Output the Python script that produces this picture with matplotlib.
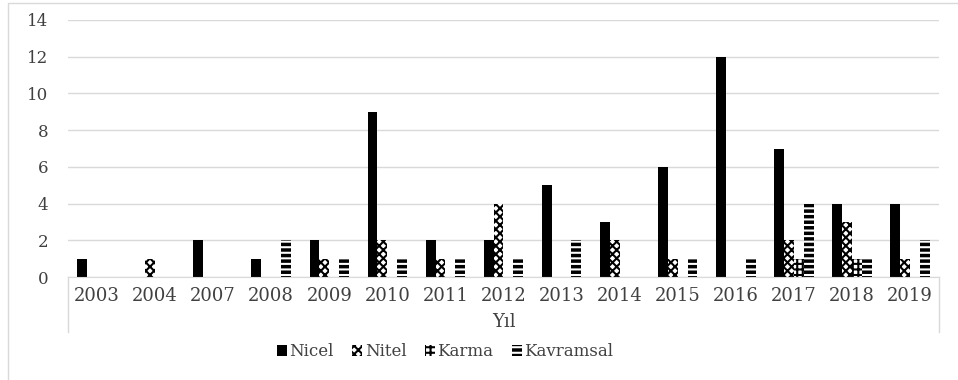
import matplotlib.pyplot as plt
import numpy as np
from matplotlib.lines import Line2D
from matplotlib.patches import Rectangle

years = ["2003", "2004", "2007", "2008", "2009", "2010", "2011", "2012",
         "2013", "2014", "2015", "2016", "2017", "2018", "2019"]
nicel = [1, 0, 2, 1, 2, 9, 2, 2, 5, 3, 6, 12, 7, 4, 4]
nitel = [0, 1, 0, 0, 1, 2, 1, 4, 0, 2, 1, 0, 2, 3, 1]
karma = [0, 0, 0, 0, 0, 0, 0, 0, 0, 0, 0, 0, 1, 1, 0]
kavramsal = [0, 0, 0, 2, 1, 1, 1, 1, 2, 0, 1, 1, 4, 1, 2]

plt.rcParams["font.family"] = ["DejaVu Serif"]
plt.rcParams["hatch.linewidth"] = 1.5

W, H = 958, 380
fig = plt.figure(figsize=(W / 100, H / 100), dpi=100)
ax = fig.add_axes([68 / W, 1 - 277 / H, (939 - 68) / W, (277 - 20) / H])

x = np.arange(len(years))
bw = 0.17
styles = [
    ("Nicel", nicel, dict(facecolor="black", edgecolor="black", hatch=None)),
    ("Nitel", nitel, dict(facecolor="white", edgecolor="black", hatch="xxxx")),
    ("Karma", karma, dict(facecolor="white", edgecolor="black", hatch="+++")),
    ("Kavramsal", kavramsal, dict(facecolor="black", edgecolor="white", hatch="---")),
]
handles = []
for i, (name, vals, st) in enumerate(styles):
    bars = ax.bar(x + (i - 1.5) * bw, vals, bw, linewidth=0, label=name, **st)
    handles.append(bars)

ax.set_xlim(-0.5, len(years) - 0.5)
ax.set_ylim(0, 14)
ax.set_yticks(range(0, 15, 2))
ax.yaxis.grid(True, color="#d9d9d9", linewidth=1)
ax.set_axisbelow(True)
for s in ["top", "right", "left"]:
    ax.spines[s].set_visible(False)
ax.spines["bottom"].set_color("#d9d9d9")
ax.tick_params(axis="y", length=0, pad=14, labelsize=12, labelcolor="#404040")
ax.tick_params(axis="x", length=0, pad=7, labelsize=13, labelcolor="#404040")
ax.set_xticks(x)
ax.set_xticklabels(years)

# category box below the axis
for xp in (68, 939):
    fig.add_artist(Line2D([xp / W, xp / W], [1 - 277 / H, 1 - 332 / H],
                          color="#d9d9d9", linewidth=1))
fig.text(503.5 / W, 1 - 322 / H, "Yıl", ha="center", va="center",
         fontsize=13, color="#404040")

# outer chart frame
fig.add_artist(Rectangle((8 / W, -0.02), 1.0, 1 - 3 / H + 0.02,
                         transform=fig.transFigure, fill=False,
                         edgecolor="#d9d9d9", linewidth=1))

fig.legend(handles=handles, loc="center", bbox_to_anchor=(445 / W, 1 - 352 / H),
           ncol=4, frameon=False, fontsize=12, handlelength=0.6,
           handleheight=0.6, handletextpad=0.15, columnspacing=1.1,
           labelcolor="#404040")

fig.savefig("out.png", dpi=100)
